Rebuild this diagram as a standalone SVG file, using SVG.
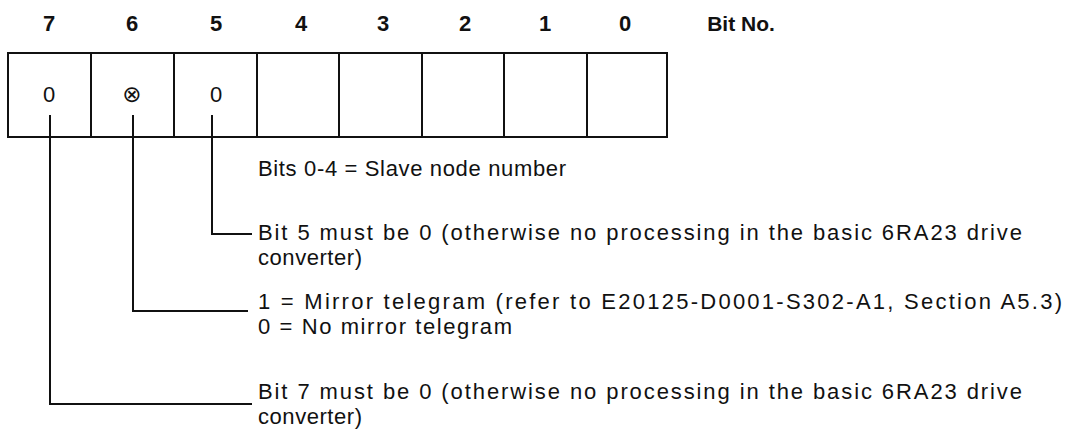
<svg xmlns="http://www.w3.org/2000/svg" width="1067" height="435" viewBox="0 0 1067 435">
<style>
.t{font-family:"Liberation Sans",Arial,sans-serif;font-size:22px;fill:#111}
.h{font-family:"Liberation Sans",Arial,sans-serif;font-size:22px;font-weight:bold;fill:#111;text-anchor:middle}
.c{font-family:"Liberation Sans",Arial,sans-serif;font-size:22px;fill:#111;text-anchor:middle}
.cell{fill:#fff;stroke:#111;stroke-width:2}
.ln{fill:none;stroke:#111;stroke-width:2}
</style>
<rect width="1067" height="435" fill="#fff"/>
<g id="header">
<text class="h" x="49" y="31">7</text>
<text class="h" x="132" y="31">6</text>
<text class="h" x="216" y="31">5</text>
<text class="h" x="301" y="31">4</text>
<text class="h" x="383" y="31">3</text>
<text class="h" x="465" y="31">2</text>
<text class="h" x="545" y="31">1</text>
<text class="h" x="625" y="31">0</text>
<text class="h" x="741" y="31" style="font-size:21px">Bit No.</text>
</g>
<g id="register">
<rect class="cell" x="8" y="53" width="83" height="84"/>
<rect class="cell" x="91" y="53" width="83" height="84"/>
<rect class="cell" x="174" y="53" width="83" height="84"/>
<rect class="cell" x="257" y="53" width="82" height="84"/>
<rect class="cell" x="339" y="53" width="83" height="84"/>
<rect class="cell" x="422" y="53" width="82" height="84"/>
<rect class="cell" x="504" y="53" width="83" height="84"/>
<rect class="cell" x="587" y="53" width="80" height="84"/>
<text class="c" x="49" y="102">0</text>
<text class="c" x="132" y="102" style="font-family:'DejaVu Sans',sans-serif;font-size:23px">⊗</text>
<text class="c" x="216" y="102">0</text>
</g>
<g id="connectors">
<polyline class="ln" points="50,115 50,404 252,404"/>
<polyline class="ln" points="133,115 133,311 248,311"/>
<polyline class="ln" points="212,115 212,234 252,234"/>
</g>
<g id="label-bits04">
<text class="t" x="258" y="176" textLength="308">Bits 0-4 = Slave node number</text>
</g>
<g id="label-bit5">
<text class="t" x="258" y="240" textLength="764">Bit 5 must be 0 (otherwise no processing in the basic 6RA23 drive</text>
<text class="t" x="258" y="265" textLength="104">converter)</text>
</g>
<g id="label-bit6">
<text class="t" x="258" y="309" textLength="804">1 = Mirror telegram (refer to E20125-D0001-S302-A1, Section A5.3)</text>
<text class="t" x="258" y="334" textLength="254">0 = No mirror telegram</text>
</g>
<g id="label-bit7">
<text class="t" x="258" y="399" textLength="764">Bit 7 must be 0 (otherwise no processing in the basic 6RA23 drive</text>
<text class="t" x="258" y="424" textLength="104">converter)</text>
</g>
</svg>
